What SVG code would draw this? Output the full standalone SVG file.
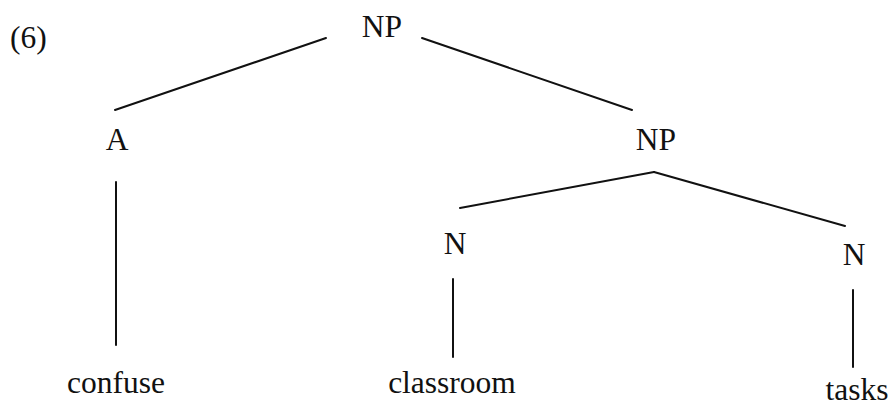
<svg xmlns="http://www.w3.org/2000/svg" width="895" height="409" viewBox="0 0 895 409">
<style>
text{font-family:"Liberation Serif","Times New Roman","DejaVu Serif",serif;font-size:31.5px;fill:#111;text-anchor:middle}
line{stroke:#111;stroke-width:2;stroke-linecap:round}
</style>
<rect width="895" height="409" fill="#fff"/>
<text x="10" y="48" style="text-anchor:start">(6)</text>
<g id="connectors">
<line x1="326" y1="38" x2="115" y2="110"/>
<line x1="422" y1="38" x2="632" y2="110"/>
<line x1="116" y1="182" x2="116" y2="345"/>
<line x1="654" y1="172" x2="460" y2="208"/>
<line x1="654" y1="172" x2="845" y2="226"/>
<line x1="453" y1="279" x2="453" y2="357"/>
<line x1="853" y1="290" x2="853" y2="367"/>
</g>
<g id="np-root"><text x="382" y="37">NP</text></g>
<g id="a"><text x="117" y="150">A</text></g>
<g id="np2"><text x="656" y="150">NP</text></g>
<g id="n-left"><text x="455" y="254">N</text></g>
<g id="n-right"><text x="854" y="265">N</text></g>
<g id="confuse"><text x="116" y="393">confuse</text></g>
<g id="classroom"><text x="452" y="393">classroom</text></g>
<g id="tasks"><text x="857" y="400">tasks</text></g>
</svg>
